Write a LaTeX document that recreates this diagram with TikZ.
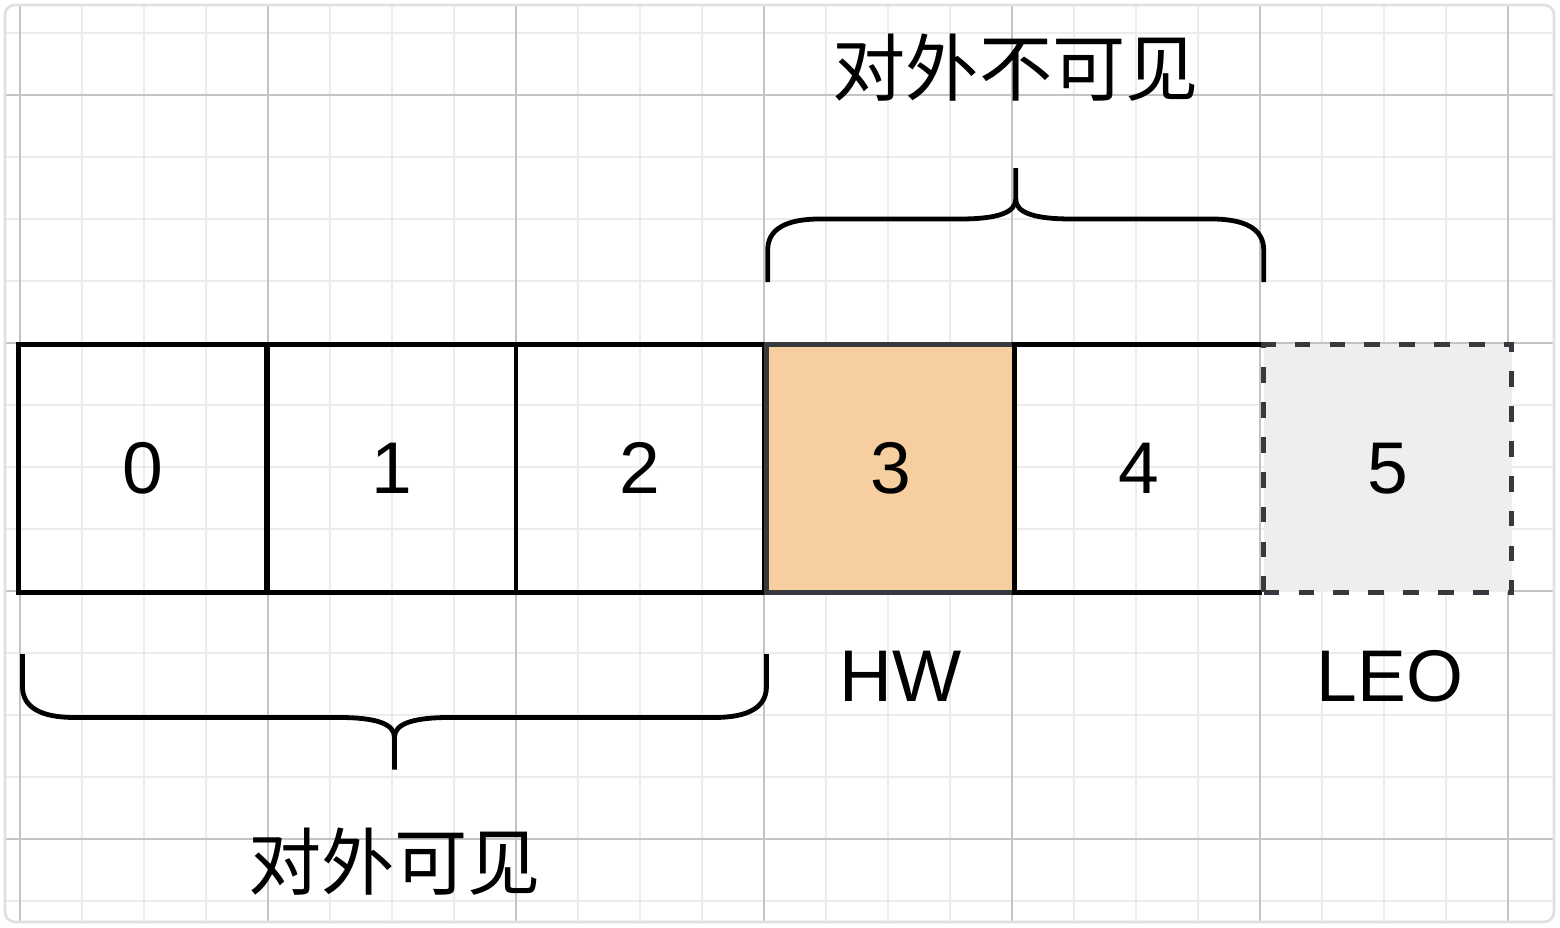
\documentclass[tikz,border=0pt]{standalone}
\usepackage{fontspec}
\setmainfont{Liberation Sans}
\newfontfamily\cjk{Noto Sans CJK SC}
\usepackage{tikz}
\definecolor{hwfill}{RGB}{247,206,159}
\definecolor{leofill}{RGB}{238,238,238}
\definecolor{darkline}{RGB}{54,57,61}
\definecolor{minorgrid}{RGB}{236,236,236}
\definecolor{majorgrid}{RGB}{196,196,196}
\tikzset{cell/.style={shape=rectangle, minimum width=2cm, minimum height=2cm, inner sep=0pt, outer sep=0pt, line width=1.1pt, font=\fontsize{16.8}{20}\selectfont}}
\tikzset{tag/.style={inner sep=0pt, font=\fontsize{16.8}{20}\selectfont}}
\tikzset{bracket/.style={line width=1.1pt}}

\begin{document}
\begin{tikzpicture}
\useasboundingbox (-0.1613,0.7661) rectangle (12.4194,-6.7177);
\fill[white] (-0.1613,0.7661) rectangle (12.4194,-6.7177);
\begin{scope}
\clip[rounded corners=0.08cm] (-0.121,0.726) rectangle (12.371,-6.669);
\draw[minorgrid, line width=0.45pt, step=0.5] (-0.5,1) grid (12.5,-7);
\draw[majorgrid, line width=0.45pt, step=2] (-2,2) grid (14,-8);
\end{scope}
\draw[black!12, line width=0.6pt, rounded corners=0.08cm] (-0.121,0.726) rectangle (12.371,-6.669);

\node[cell, draw] (c0) at (0.99,-3.01) {0};
\node[cell, draw] (c1) at (3,-3.01) {1};
\node[cell, draw] (c2) at (5,-3.01) {2};
\node[cell, draw=darkline, fill=hwfill] (c3) at (7.02,-3.01) {3};
\node[cell] (c4) at (9.02,-3.01) {4};
\draw[line width=1.1pt] (c4.north east) -- (c4.north west) -- (c4.south west) -- (c4.south east);
\node[cell, draw=darkline, fill=leofill, dash pattern=on 3.6pt off 4.4pt] (c5) at (11.03,-3.01) {5};

\node[tag] (hw) at (7.1,-4.69) {HW};
\node[tag] (leo) at (11.05,-4.69) {LEO};

% brace over 3,4
\draw[bracket] (6.03,-1.51) -- (6.03,-1.25) .. controls (6.03,-1.08) and (6.18,-1.0) .. (6.45,-1.0)
  -- (7.58,-1.0) .. controls (7.88,-1.0) and (8.03,-0.95) .. (8.03,-0.84) -- (8.03,-0.59);
\draw[bracket] (8.03,-0.84) .. controls (8.03,-0.95) and (8.18,-1.0) .. (8.48,-1.0)
  -- (9.61,-1.0) .. controls (9.88,-1.0) and (10.03,-1.08) .. (10.03,-1.25) -- (10.03,-1.51);
\node[tag, font=\fontsize{16.8}{20}\cjk] (hidden) at (8.03,0.22) {对外不可见};

% brace under 0,1,2
\draw[bracket] (0.02,-4.51) -- (0.02,-4.77) .. controls (0.02,-4.94) and (0.17,-5.02) .. (0.44,-5.02)
  -- (2.57,-5.02) .. controls (2.87,-5.02) and (3.02,-5.07) .. (3.02,-5.18) -- (3.02,-5.44);
\draw[bracket] (3.02,-5.18) .. controls (3.02,-5.07) and (3.17,-5.02) .. (3.47,-5.02)
  -- (5.6,-5.02) .. controls (5.87,-5.02) and (6.02,-4.94) .. (6.02,-4.77) -- (6.02,-4.51);
\node[tag, font=\fontsize{16.8}{20}\cjk] (shown) at (3.02,-6.18) {对外可见};
\end{tikzpicture}
\end{document}
